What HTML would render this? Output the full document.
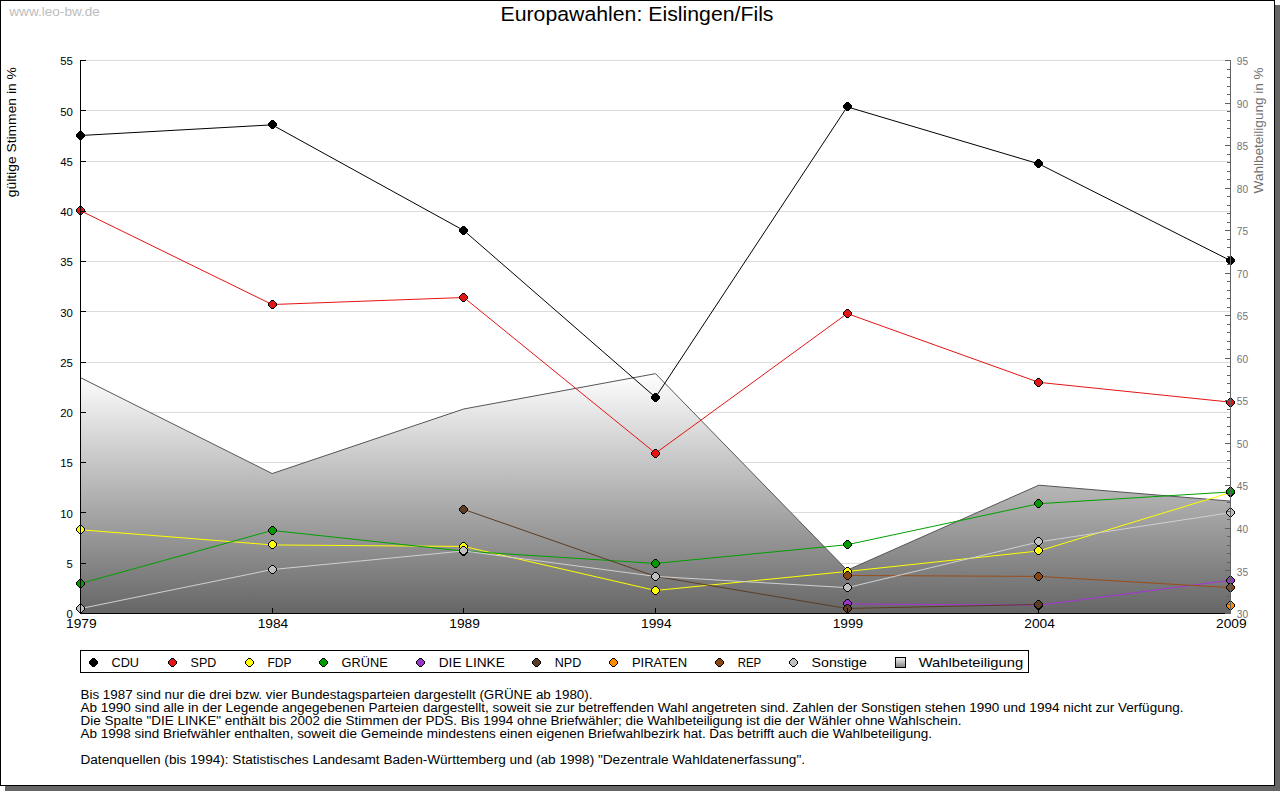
<!DOCTYPE html>
<html><head><meta charset="utf-8"><title>Europawahlen: Eislingen/Fils</title>
<style>
html,body{margin:0;padding:0;background:#ffffff;width:1280px;height:791px;overflow:hidden}
svg{display:block}
text{font-family:"Liberation Sans", sans-serif}
</style></head><body>
<svg width="1280" height="791" viewBox="0 0 1280 791">
<defs>
<path id="mo" shape-rendering="crispEdges" d="M3,0H6V1H7V2H8V3H9V6H8V7H7V8H6V9H3V8H2V7H1V6H0V3H1V2H2V1H3Z"/>
<path id="mi" shape-rendering="crispEdges" d="M3,1H6V2H7V3H8V6H7V7H6V8H3V7H2V6H1V3H2V2H3Z"/>
<linearGradient id="ga" x1="0" y1="373" x2="0" y2="613" gradientUnits="userSpaceOnUse">
<stop offset="0" stop-color="#ffffff"/><stop offset="1" stop-color="#666666"/>
</linearGradient>
<linearGradient id="gl" x1="0" y1="0" x2="0" y2="1">
<stop offset="0" stop-color="#f4f4f4"/><stop offset="1" stop-color="#808080"/>
</linearGradient>
</defs>
<rect x="5" y="5" width="1275" height="786" fill="#666666"/>
<rect x="0.5" y="0.5" width="1274" height="785" fill="#ffffff" stroke="#000" stroke-width="1"/>

<text x="9.3" y="16.2" font-size="13.4" fill="#bdbdbd" textLength="90.6" lengthAdjust="spacingAndGlyphs">www.leo-bw.de</text>
<text x="500.5" y="20.7" font-size="19.3" fill="#000" textLength="273" lengthAdjust="spacingAndGlyphs">Europawahlen: Eislingen/Fils</text>
<text transform="translate(15.5,197.2) rotate(-90)" x="0" y="0" font-size="12" fill="#000" textLength="130" lengthAdjust="spacingAndGlyphs">gültige Stimmen in %</text>
<text transform="translate(1262.5,193.4) rotate(-90)" x="0" y="0" font-size="12" fill="#707070" textLength="126" lengthAdjust="spacingAndGlyphs">Wahlbeteiligung in %</text>
<g shape-rendering="crispEdges">
<line x1="85" y1="563.23" x2="1230" y2="563.23" stroke="#dcdcdc" stroke-width="1"/>
<line x1="85" y1="512.95" x2="1230" y2="512.95" stroke="#dcdcdc" stroke-width="1"/>
<line x1="85" y1="462.68" x2="1230" y2="462.68" stroke="#dcdcdc" stroke-width="1"/>
<line x1="85" y1="412.41" x2="1230" y2="412.41" stroke="#dcdcdc" stroke-width="1"/>
<line x1="85" y1="362.14" x2="1230" y2="362.14" stroke="#dcdcdc" stroke-width="1"/>
<line x1="85" y1="311.86" x2="1230" y2="311.86" stroke="#dcdcdc" stroke-width="1"/>
<line x1="85" y1="261.59" x2="1230" y2="261.59" stroke="#dcdcdc" stroke-width="1"/>
<line x1="85" y1="211.32" x2="1230" y2="211.32" stroke="#dcdcdc" stroke-width="1"/>
<line x1="85" y1="161.05" x2="1230" y2="161.05" stroke="#dcdcdc" stroke-width="1"/>
<line x1="85" y1="110.77" x2="1230" y2="110.77" stroke="#dcdcdc" stroke-width="1"/>
<line x1="85" y1="60.50" x2="1230" y2="60.50" stroke="#dcdcdc" stroke-width="1"/>
</g>
<polygon points="80.50,613.50 80.50,377.67 272.17,473.55 463.83,408.98 655.50,373.67 847.17,570.20 1038.83,485.20 1230.50,501.11 1230.50,613.50" fill="url(#ga)"/>
<polyline points="80.50,377.67 272.17,473.55 463.83,408.98 655.50,373.67 847.17,570.20 1038.83,485.20 1230.50,501.11" fill="none" stroke="#555" stroke-width="1"/>
<polyline points="80.50,135.51 272.17,124.85 463.83,230.52 655.50,397.33 847.17,106.85 1038.83,163.86 1230.50,260.59" fill="none" stroke="#000000" stroke-width="1"/>
<use href="#mo" x="76" y="131" fill="#000"/><use href="#mi" x="76" y="131" fill="#000000"/>
<use href="#mo" x="268" y="120" fill="#000"/><use href="#mi" x="268" y="120" fill="#000000"/>
<use href="#mo" x="459" y="226" fill="#000"/><use href="#mi" x="459" y="226" fill="#000000"/>
<use href="#mo" x="651" y="393" fill="#000"/><use href="#mi" x="651" y="393" fill="#000000"/>
<use href="#mo" x="843" y="102" fill="#000"/><use href="#mi" x="843" y="102" fill="#000000"/>
<use href="#mo" x="1034" y="159" fill="#000"/><use href="#mi" x="1034" y="159" fill="#000000"/>
<use href="#mo" x="1226" y="256" fill="#000"/><use href="#mi" x="1226" y="256" fill="#000000"/>
<polyline points="80.50,210.71 272.17,304.52 463.83,297.49 655.50,453.23 847.17,313.57 1038.83,382.35 1230.50,402.15" fill="none" stroke="#e41414" stroke-width="1"/>
<use href="#mo" x="76" y="206" fill="#000"/><use href="#mi" x="76" y="206" fill="#e41414"/>
<use href="#mo" x="268" y="300" fill="#000"/><use href="#mi" x="268" y="300" fill="#e41414"/>
<use href="#mo" x="459" y="293" fill="#000"/><use href="#mi" x="459" y="293" fill="#e41414"/>
<use href="#mo" x="651" y="449" fill="#000"/><use href="#mi" x="651" y="449" fill="#e41414"/>
<use href="#mo" x="843" y="309" fill="#000"/><use href="#mi" x="843" y="309" fill="#e41414"/>
<use href="#mo" x="1034" y="378" fill="#000"/><use href="#mi" x="1034" y="378" fill="#e41414"/>
<use href="#mo" x="1226" y="398" fill="#000"/><use href="#mi" x="1226" y="398" fill="#e41414"/>
<polyline points="80.50,529.75 272.17,544.93 463.83,546.44 655.50,590.48 847.17,571.47 1038.83,550.96 1230.50,492.54" fill="none" stroke="#ffff00" stroke-width="1"/>
<use href="#mo" x="76" y="525" fill="#000"/><use href="#mi" x="76" y="525" fill="#ffff00"/>
<use href="#mo" x="268" y="540" fill="#000"/><use href="#mi" x="268" y="540" fill="#ffff00"/>
<use href="#mo" x="459" y="542" fill="#000"/><use href="#mi" x="459" y="542" fill="#ffff00"/>
<use href="#mo" x="651" y="586" fill="#000"/><use href="#mi" x="651" y="586" fill="#ffff00"/>
<use href="#mo" x="843" y="567" fill="#000"/><use href="#mi" x="843" y="567" fill="#ffff00"/>
<use href="#mo" x="1034" y="546" fill="#000"/><use href="#mi" x="1034" y="546" fill="#ffff00"/>
<use href="#mo" x="1226" y="488" fill="#000"/><use href="#mi" x="1226" y="488" fill="#ffff00"/>
<polyline points="80.50,583.54 272.17,530.45 463.83,551.16 655.50,563.43 847.17,544.73 1038.83,503.70 1230.50,491.94" fill="none" stroke="#00a000" stroke-width="1"/>
<use href="#mo" x="76" y="579" fill="#000"/><use href="#mi" x="76" y="579" fill="#009900"/>
<use href="#mo" x="268" y="526" fill="#000"/><use href="#mi" x="268" y="526" fill="#009900"/>
<use href="#mo" x="459" y="547" fill="#000"/><use href="#mi" x="459" y="547" fill="#009900"/>
<use href="#mo" x="651" y="559" fill="#000"/><use href="#mi" x="651" y="559" fill="#009900"/>
<use href="#mo" x="843" y="540" fill="#000"/><use href="#mi" x="843" y="540" fill="#009900"/>
<use href="#mo" x="1034" y="499" fill="#000"/><use href="#mi" x="1034" y="499" fill="#009900"/>
<use href="#mo" x="1226" y="487" fill="#000"/><use href="#mi" x="1226" y="487" fill="#009900"/>
<polyline points="847.17,603.95 1038.83,605.26 1230.50,580.22" fill="none" stroke="#a733d9" stroke-width="1"/>
<use href="#mo" x="843" y="599" fill="#000"/><use href="#mi" x="843" y="599" fill="#9933cc"/>
<use href="#mo" x="1034" y="601" fill="#000"/><use href="#mi" x="1034" y="601" fill="#9933cc"/>
<use href="#mo" x="1226" y="576" fill="#000"/><use href="#mi" x="1226" y="576" fill="#9933cc"/>
<polyline points="463.83,509.44 655.50,576.40 847.17,608.47 1038.83,604.45" fill="none" stroke="#5c3d24" stroke-width="1"/>
<use href="#mo" x="459" y="505" fill="#000"/><use href="#mi" x="459" y="505" fill="#5c3d24"/>
<use href="#mo" x="651" y="572" fill="#000"/><use href="#mi" x="651" y="572" fill="#5c3d24"/>
<use href="#mo" x="843" y="604" fill="#000"/><use href="#mi" x="843" y="604" fill="#5c3d24"/>
<use href="#mo" x="1034" y="600" fill="#000"/><use href="#mi" x="1034" y="600" fill="#5c3d24"/>
<use href="#mo" x="1226" y="601" fill="#000"/><use href="#mi" x="1226" y="601" fill="#ff8c00"/>
<polyline points="847.17,575.49 1038.83,576.40 1230.50,587.66" fill="none" stroke="#9a4d17" stroke-width="1"/>
<use href="#mo" x="843" y="571" fill="#000"/><use href="#mi" x="843" y="571" fill="#8b4513"/>
<use href="#mo" x="1034" y="572" fill="#000"/><use href="#mi" x="1034" y="572" fill="#8b4513"/>
<use href="#mo" x="1226" y="583" fill="#000"/><use href="#mi" x="1226" y="583" fill="#8b4513"/>
<polyline points="80.50,608.57 272.17,569.56 463.83,550.96 655.50,576.40 847.17,587.66 1038.83,541.91 1230.50,512.65" fill="none" stroke="#d0d0d0" stroke-width="1"/>
<use href="#mo" x="76" y="604" fill="#000"/><use href="#mi" x="76" y="604" fill="#c0c0c0"/>
<use href="#mo" x="268" y="565" fill="#000"/><use href="#mi" x="268" y="565" fill="#c0c0c0"/>
<use href="#mo" x="459" y="546" fill="#000"/><use href="#mi" x="459" y="546" fill="#c0c0c0"/>
<use href="#mo" x="651" y="572" fill="#000"/><use href="#mi" x="651" y="572" fill="#c0c0c0"/>
<use href="#mo" x="843" y="583" fill="#000"/><use href="#mi" x="843" y="583" fill="#c0c0c0"/>
<use href="#mo" x="1034" y="537" fill="#000"/><use href="#mi" x="1034" y="537" fill="#c0c0c0"/>
<use href="#mo" x="1226" y="508" fill="#000"/><use href="#mi" x="1226" y="508" fill="#c0c0c0"/>
<g shape-rendering="crispEdges">
<line x1="80.5" y1="60" x2="80.5" y2="614" stroke="#000"/>
<line x1="80" y1="613.5" x2="1226" y2="613.5" stroke="#000"/>
<line x1="80" y1="613.50" x2="86" y2="613.50" stroke="#000"/>
<line x1="80" y1="563.23" x2="86" y2="563.23" stroke="#000"/>
<line x1="80" y1="512.95" x2="86" y2="512.95" stroke="#000"/>
<line x1="80" y1="462.68" x2="86" y2="462.68" stroke="#000"/>
<line x1="80" y1="412.41" x2="86" y2="412.41" stroke="#000"/>
<line x1="80" y1="362.14" x2="86" y2="362.14" stroke="#000"/>
<line x1="80" y1="311.86" x2="86" y2="311.86" stroke="#000"/>
<line x1="80" y1="261.59" x2="86" y2="261.59" stroke="#000"/>
<line x1="80" y1="211.32" x2="86" y2="211.32" stroke="#000"/>
<line x1="80" y1="161.05" x2="86" y2="161.05" stroke="#000"/>
<line x1="80" y1="110.77" x2="86" y2="110.77" stroke="#000"/>
<line x1="80" y1="60.50" x2="86" y2="60.50" stroke="#000"/>
<line x1="80.50" y1="608" x2="80.50" y2="613" stroke="#000"/>
<line x1="272.17" y1="608" x2="272.17" y2="613" stroke="#000"/>
<line x1="463.83" y1="608" x2="463.83" y2="613" stroke="#000"/>
<line x1="655.50" y1="608" x2="655.50" y2="613" stroke="#000"/>
<line x1="847.17" y1="608" x2="847.17" y2="613" stroke="#000"/>
<line x1="1038.83" y1="608" x2="1038.83" y2="613" stroke="#000"/>
<line x1="1230.50" y1="608" x2="1230.50" y2="613" stroke="#000"/>
<line x1="1230.5" y1="60" x2="1230.5" y2="614" stroke="#606060"/>
<line x1="1225" y1="613.50" x2="1230" y2="613.50" stroke="#606060"/>
<line x1="1227" y1="604.99" x2="1230" y2="604.99" stroke="#606060"/>
<line x1="1227" y1="596.48" x2="1230" y2="596.48" stroke="#606060"/>
<line x1="1227" y1="587.98" x2="1230" y2="587.98" stroke="#606060"/>
<line x1="1227" y1="579.47" x2="1230" y2="579.47" stroke="#606060"/>
<line x1="1225" y1="570.96" x2="1230" y2="570.96" stroke="#606060"/>
<line x1="1227" y1="562.45" x2="1230" y2="562.45" stroke="#606060"/>
<line x1="1227" y1="553.95" x2="1230" y2="553.95" stroke="#606060"/>
<line x1="1227" y1="545.44" x2="1230" y2="545.44" stroke="#606060"/>
<line x1="1227" y1="536.93" x2="1230" y2="536.93" stroke="#606060"/>
<line x1="1225" y1="528.42" x2="1230" y2="528.42" stroke="#606060"/>
<line x1="1227" y1="519.92" x2="1230" y2="519.92" stroke="#606060"/>
<line x1="1227" y1="511.41" x2="1230" y2="511.41" stroke="#606060"/>
<line x1="1227" y1="502.90" x2="1230" y2="502.90" stroke="#606060"/>
<line x1="1227" y1="494.39" x2="1230" y2="494.39" stroke="#606060"/>
<line x1="1225" y1="485.88" x2="1230" y2="485.88" stroke="#606060"/>
<line x1="1227" y1="477.38" x2="1230" y2="477.38" stroke="#606060"/>
<line x1="1227" y1="468.87" x2="1230" y2="468.87" stroke="#606060"/>
<line x1="1227" y1="460.36" x2="1230" y2="460.36" stroke="#606060"/>
<line x1="1227" y1="451.85" x2="1230" y2="451.85" stroke="#606060"/>
<line x1="1225" y1="443.35" x2="1230" y2="443.35" stroke="#606060"/>
<line x1="1227" y1="434.84" x2="1230" y2="434.84" stroke="#606060"/>
<line x1="1227" y1="426.33" x2="1230" y2="426.33" stroke="#606060"/>
<line x1="1227" y1="417.82" x2="1230" y2="417.82" stroke="#606060"/>
<line x1="1227" y1="409.32" x2="1230" y2="409.32" stroke="#606060"/>
<line x1="1225" y1="400.81" x2="1230" y2="400.81" stroke="#606060"/>
<line x1="1227" y1="392.30" x2="1230" y2="392.30" stroke="#606060"/>
<line x1="1227" y1="383.79" x2="1230" y2="383.79" stroke="#606060"/>
<line x1="1227" y1="375.28" x2="1230" y2="375.28" stroke="#606060"/>
<line x1="1227" y1="366.78" x2="1230" y2="366.78" stroke="#606060"/>
<line x1="1225" y1="358.27" x2="1230" y2="358.27" stroke="#606060"/>
<line x1="1227" y1="349.76" x2="1230" y2="349.76" stroke="#606060"/>
<line x1="1227" y1="341.25" x2="1230" y2="341.25" stroke="#606060"/>
<line x1="1227" y1="332.75" x2="1230" y2="332.75" stroke="#606060"/>
<line x1="1227" y1="324.24" x2="1230" y2="324.24" stroke="#606060"/>
<line x1="1225" y1="315.73" x2="1230" y2="315.73" stroke="#606060"/>
<line x1="1227" y1="307.22" x2="1230" y2="307.22" stroke="#606060"/>
<line x1="1227" y1="298.72" x2="1230" y2="298.72" stroke="#606060"/>
<line x1="1227" y1="290.21" x2="1230" y2="290.21" stroke="#606060"/>
<line x1="1227" y1="281.70" x2="1230" y2="281.70" stroke="#606060"/>
<line x1="1225" y1="273.19" x2="1230" y2="273.19" stroke="#606060"/>
<line x1="1227" y1="264.68" x2="1230" y2="264.68" stroke="#606060"/>
<line x1="1227" y1="256.18" x2="1230" y2="256.18" stroke="#606060"/>
<line x1="1227" y1="247.67" x2="1230" y2="247.67" stroke="#606060"/>
<line x1="1227" y1="239.16" x2="1230" y2="239.16" stroke="#606060"/>
<line x1="1225" y1="230.65" x2="1230" y2="230.65" stroke="#606060"/>
<line x1="1227" y1="222.15" x2="1230" y2="222.15" stroke="#606060"/>
<line x1="1227" y1="213.64" x2="1230" y2="213.64" stroke="#606060"/>
<line x1="1227" y1="205.13" x2="1230" y2="205.13" stroke="#606060"/>
<line x1="1227" y1="196.62" x2="1230" y2="196.62" stroke="#606060"/>
<line x1="1225" y1="188.12" x2="1230" y2="188.12" stroke="#606060"/>
<line x1="1227" y1="179.61" x2="1230" y2="179.61" stroke="#606060"/>
<line x1="1227" y1="171.10" x2="1230" y2="171.10" stroke="#606060"/>
<line x1="1227" y1="162.59" x2="1230" y2="162.59" stroke="#606060"/>
<line x1="1227" y1="154.08" x2="1230" y2="154.08" stroke="#606060"/>
<line x1="1225" y1="145.58" x2="1230" y2="145.58" stroke="#606060"/>
<line x1="1227" y1="137.07" x2="1230" y2="137.07" stroke="#606060"/>
<line x1="1227" y1="128.56" x2="1230" y2="128.56" stroke="#606060"/>
<line x1="1227" y1="120.05" x2="1230" y2="120.05" stroke="#606060"/>
<line x1="1227" y1="111.55" x2="1230" y2="111.55" stroke="#606060"/>
<line x1="1225" y1="103.04" x2="1230" y2="103.04" stroke="#606060"/>
<line x1="1227" y1="94.53" x2="1230" y2="94.53" stroke="#606060"/>
<line x1="1227" y1="86.02" x2="1230" y2="86.02" stroke="#606060"/>
<line x1="1227" y1="77.52" x2="1230" y2="77.52" stroke="#606060"/>
<line x1="1227" y1="69.01" x2="1230" y2="69.01" stroke="#606060"/>
<line x1="1225" y1="60.50" x2="1230" y2="60.50" stroke="#606060"/>
</g>
<text x="72.9" y="618.30" font-size="10.8" text-anchor="end" fill="#000" textLength="6.3" lengthAdjust="spacingAndGlyphs">0</text>
<text x="72.9" y="568.03" font-size="10.8" text-anchor="end" fill="#000" textLength="6.3" lengthAdjust="spacingAndGlyphs">5</text>
<text x="72.9" y="517.75" font-size="10.8" text-anchor="end" fill="#000" textLength="12.7" lengthAdjust="spacingAndGlyphs">10</text>
<text x="72.9" y="467.48" font-size="10.8" text-anchor="end" fill="#000" textLength="12.7" lengthAdjust="spacingAndGlyphs">15</text>
<text x="72.9" y="417.21" font-size="10.8" text-anchor="end" fill="#000" textLength="12.7" lengthAdjust="spacingAndGlyphs">20</text>
<text x="72.9" y="366.94" font-size="10.8" text-anchor="end" fill="#000" textLength="12.7" lengthAdjust="spacingAndGlyphs">25</text>
<text x="72.9" y="316.66" font-size="10.8" text-anchor="end" fill="#000" textLength="12.7" lengthAdjust="spacingAndGlyphs">30</text>
<text x="72.9" y="266.39" font-size="10.8" text-anchor="end" fill="#000" textLength="12.7" lengthAdjust="spacingAndGlyphs">35</text>
<text x="72.9" y="216.12" font-size="10.8" text-anchor="end" fill="#000" textLength="12.7" lengthAdjust="spacingAndGlyphs">40</text>
<text x="72.9" y="165.85" font-size="10.8" text-anchor="end" fill="#000" textLength="12.7" lengthAdjust="spacingAndGlyphs">45</text>
<text x="72.9" y="115.57" font-size="10.8" text-anchor="end" fill="#000" textLength="12.7" lengthAdjust="spacingAndGlyphs">50</text>
<text x="72.9" y="65.30" font-size="10.8" text-anchor="end" fill="#000" textLength="12.7" lengthAdjust="spacingAndGlyphs">55</text>
<text x="1236.8" y="618.10" font-size="10.8" fill="#747474" textLength="11.3" lengthAdjust="spacingAndGlyphs">30</text>
<text x="1236.8" y="575.56" font-size="10.8" fill="#747474" textLength="11.3" lengthAdjust="spacingAndGlyphs">35</text>
<text x="1236.8" y="533.02" font-size="10.8" fill="#747474" textLength="11.3" lengthAdjust="spacingAndGlyphs">40</text>
<text x="1236.8" y="490.48" font-size="10.8" fill="#747474" textLength="11.3" lengthAdjust="spacingAndGlyphs">45</text>
<text x="1236.8" y="447.95" font-size="10.8" fill="#747474" textLength="11.3" lengthAdjust="spacingAndGlyphs">50</text>
<text x="1236.8" y="405.41" font-size="10.8" fill="#747474" textLength="11.3" lengthAdjust="spacingAndGlyphs">55</text>
<text x="1236.8" y="362.87" font-size="10.8" fill="#747474" textLength="11.3" lengthAdjust="spacingAndGlyphs">60</text>
<text x="1236.8" y="320.33" font-size="10.8" fill="#747474" textLength="11.3" lengthAdjust="spacingAndGlyphs">65</text>
<text x="1236.8" y="277.79" font-size="10.8" fill="#747474" textLength="11.3" lengthAdjust="spacingAndGlyphs">70</text>
<text x="1236.8" y="235.25" font-size="10.8" fill="#747474" textLength="11.3" lengthAdjust="spacingAndGlyphs">75</text>
<text x="1236.8" y="192.72" font-size="10.8" fill="#747474" textLength="11.3" lengthAdjust="spacingAndGlyphs">80</text>
<text x="1236.8" y="150.18" font-size="10.8" fill="#747474" textLength="11.3" lengthAdjust="spacingAndGlyphs">85</text>
<text x="1236.8" y="107.64" font-size="10.8" fill="#747474" textLength="11.3" lengthAdjust="spacingAndGlyphs">90</text>
<text x="1236.8" y="65.10" font-size="10.8" fill="#747474" textLength="11.3" lengthAdjust="spacingAndGlyphs">95</text>
<text x="81.30" y="627.9" font-size="12.2" text-anchor="middle" fill="#000" textLength="30.6" lengthAdjust="spacingAndGlyphs">1979</text>
<text x="272.97" y="627.9" font-size="12.2" text-anchor="middle" fill="#000" textLength="30.6" lengthAdjust="spacingAndGlyphs">1984</text>
<text x="464.63" y="627.9" font-size="12.2" text-anchor="middle" fill="#000" textLength="30.6" lengthAdjust="spacingAndGlyphs">1989</text>
<text x="656.30" y="627.9" font-size="12.2" text-anchor="middle" fill="#000" textLength="30.6" lengthAdjust="spacingAndGlyphs">1994</text>
<text x="847.97" y="627.9" font-size="12.2" text-anchor="middle" fill="#000" textLength="30.6" lengthAdjust="spacingAndGlyphs">1999</text>
<text x="1039.63" y="627.9" font-size="12.2" text-anchor="middle" fill="#000" textLength="30.6" lengthAdjust="spacingAndGlyphs">2004</text>
<text x="1231.30" y="627.9" font-size="12.2" text-anchor="middle" fill="#000" textLength="30.6" lengthAdjust="spacingAndGlyphs">2009</text>
<rect x="80.5" y="650.5" width="947.5" height="21.75" fill="#fff" stroke="#000" stroke-width="1" shape-rendering="crispEdges"/>
<use href="#mo" x="89" y="658" fill="#000"/><use href="#mi" x="89" y="658" fill="#000000"/>
<text x="111.5" y="666.6" font-size="12.2" fill="#000" textLength="27.5" lengthAdjust="spacingAndGlyphs">CDU</text>
<use href="#mo" x="168" y="658" fill="#000"/><use href="#mi" x="168" y="658" fill="#e41414"/>
<text x="190.6" y="666.6" font-size="12.2" fill="#000" textLength="25.7" lengthAdjust="spacingAndGlyphs">SPD</text>
<use href="#mo" x="245" y="658" fill="#000"/><use href="#mi" x="245" y="658" fill="#ffff00"/>
<text x="267.5" y="666.6" font-size="12.2" fill="#000" textLength="24.0" lengthAdjust="spacingAndGlyphs">FDP</text>
<use href="#mo" x="319" y="658" fill="#000"/><use href="#mi" x="319" y="658" fill="#009900"/>
<text x="341.6" y="666.6" font-size="12.2" fill="#000" textLength="46.1" lengthAdjust="spacingAndGlyphs">GRÜNE</text>
<use href="#mo" x="416" y="658" fill="#000"/><use href="#mi" x="416" y="658" fill="#9933cc"/>
<text x="438.75" y="666.6" font-size="12.2" fill="#000" textLength="66.0" lengthAdjust="spacingAndGlyphs">DIE LINKE</text>
<use href="#mo" x="532" y="658" fill="#000"/><use href="#mi" x="532" y="658" fill="#5c3d24"/>
<text x="554.75" y="666.6" font-size="12.2" fill="#000" textLength="26.5" lengthAdjust="spacingAndGlyphs">NPD</text>
<use href="#mo" x="609" y="658" fill="#000"/><use href="#mi" x="609" y="658" fill="#ff8c00"/>
<text x="631.9" y="666.6" font-size="12.2" fill="#000" textLength="55.2" lengthAdjust="spacingAndGlyphs">PIRATEN</text>
<use href="#mo" x="715" y="658" fill="#000"/><use href="#mi" x="715" y="658" fill="#8b4513"/>
<text x="737.75" y="666.6" font-size="12.2" fill="#000" textLength="23.5" lengthAdjust="spacingAndGlyphs">REP</text>
<use href="#mo" x="789" y="658" fill="#000"/><use href="#mi" x="789" y="658" fill="#c0c0c0"/>
<text x="811.6" y="666.6" font-size="12.2" fill="#000" textLength="55.3" lengthAdjust="spacingAndGlyphs">Sonstige</text>
<rect x="895.5" y="657.5" width="10" height="10" fill="url(#gl)" stroke="#000" stroke-width="1" shape-rendering="crispEdges"/>
<text x="918.75" y="666.6" font-size="12.2" fill="#000" textLength="104.4" lengthAdjust="spacingAndGlyphs">Wahlbeteiligung</text>
<text x="80.5" y="699.25" font-size="12" fill="#000" textLength="512" lengthAdjust="spacingAndGlyphs">Bis 1987 sind nur die drei bzw. vier Bundestagsparteien dargestellt (GRÜNE ab 1980).</text>
<text x="80.5" y="712.25" font-size="12" fill="#000" textLength="1103" lengthAdjust="spacingAndGlyphs">Ab 1990 sind alle in der Legende angegebenen Parteien dargestellt, soweit sie zur betreffenden Wahl angetreten sind. Zahlen der Sonstigen stehen 1990 und 1994 nicht zur Verfügung.</text>
<text x="80.5" y="725.25" font-size="12" fill="#000" textLength="881" lengthAdjust="spacingAndGlyphs">Die Spalte &quot;DIE LINKE&quot; enthält bis 2002 die Stimmen der PDS. Bis 1994 ohne Briefwähler; die Wahlbeteiligung ist die der Wähler ohne Wahlschein.</text>
<text x="80.5" y="738.25" font-size="12" fill="#000" textLength="851.5" lengthAdjust="spacingAndGlyphs">Ab 1998 sind Briefwähler enthalten, soweit die Gemeinde mindestens einen eigenen Briefwahlbezirk hat. Das betrifft auch die Wahlbeteiligung.</text>
<text x="80.5" y="764.0" font-size="12" fill="#000" textLength="724.5" lengthAdjust="spacingAndGlyphs">Datenquellen (bis 1994): Statistisches Landesamt Baden-Württemberg und (ab 1998) &quot;Dezentrale Wahldatenerfassung&quot;.</text>
</svg></body></html>
